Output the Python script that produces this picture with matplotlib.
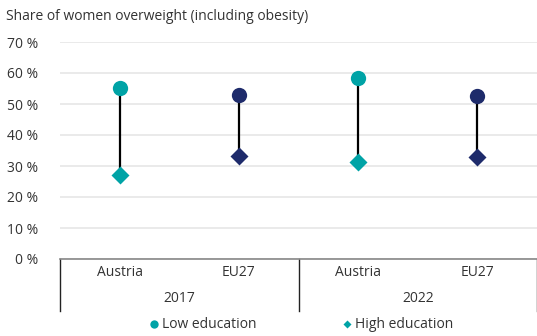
import matplotlib
matplotlib.use("Agg")
import matplotlib.pyplot as plt
from matplotlib.lines import Line2D
import matplotlib.transforms as mtransforms

plt.rcParams["font.family"] = ["Open Sans", "DejaVu Sans"]

# Anteil übergewichtiger Frauen nach Bildung
countries = ["Austria", "EU27", "Austria", "EU27"]
years = ["2017", "2022"]
low_edu = [55.2, 52.9, 58.5, 52.7]
high_edu = [27.1, 33.2, 31.4, 32.8]

TEAL = "#00A3A6"
NAVY = "#1E2B6B"
TEXT = "#333333"
point_colors = [TEAL, NAVY, TEAL, NAVY]

W, H = 537, 336
fig = plt.figure(figsize=(W / 100, H / 100), dpi=100)
ax = fig.add_axes([60 / W, (H - 259) / H, (W - 60) / W, (259 - 42) / H])

x = list(range(len(countries)))
for i in x:
    ax.plot([i, i], [high_edu[i], low_edu[i]], color="black", lw=1.6, zorder=2)
    ax.plot(i, low_edu[i], "o", ms=11, color=point_colors[i], mec="none", zorder=3)
    ax.plot(i, high_edu[i], "D", ms=9, color=point_colors[i], mec="none", zorder=3)

ax.set_xlim(-0.5, len(countries) - 0.5)
ax.set_ylim(0, 70)
ax.set_yticks(range(0, 71, 10))
ax.set_yticklabels([f"{v} %" for v in range(0, 71, 10)], fontsize=10, color=TEXT)
ax.tick_params(axis="y", length=0, pad=16)
ax.set_xticks([])
ax.grid(axis="y", color="#E6E6E6", lw=1.2)
ax.set_axisbelow(True)
for s in ["top", "right", "left"]:
    ax.spines[s].set_visible(False)
ax.spines["bottom"].set_color("#888888")
ax.spines["bottom"].set_linewidth(1.2)

# Kategorien und Jahre unter der Achse
trans = mtransforms.blended_transform_factory(ax.transData, ax.transAxes)
ax_h = 259 - 42
for i, c in enumerate(countries):
    ax.text(i, -(272 - 259) / ax_h, c, transform=trans, ha="center", va="center",
            fontsize=10, color=TEXT)
for j, yr in enumerate(years):
    ax.text(2 * j + 0.5, -(298 - 259) / ax_h, yr, transform=trans, ha="center",
            va="center", fontsize=10, color=TEXT)
for xs in [-0.5, 1.5, 3.5]:
    ax.plot([xs, xs], [0, -(311 - 259) / ax_h], transform=trans, color="#222222",
            lw=1.0, clip_on=False)

fig.text(6 / W, 1 - 17 / H, "Share of women overweight (including obesity)",
         fontsize=10, color=TEXT, va="center", ha="left")

handles = [
    Line2D([], [], marker="o", ls="none", color=TEAL, ms=6, mec="none"),
    Line2D([], [], marker="D", ls="none", color=TEAL, ms=4.5, mec="none"),
]
fig.legend(handles, ["Low education", "High education"], loc="center",
           bbox_to_anchor=(300 / W, 1 - 325 / H), ncol=2, frameon=False,
           fontsize=10, handletextpad=0.1, columnspacing=6.0, handlelength=1.0,
           labelcolor=TEXT)

fig.savefig("out.png", dpi=100)
